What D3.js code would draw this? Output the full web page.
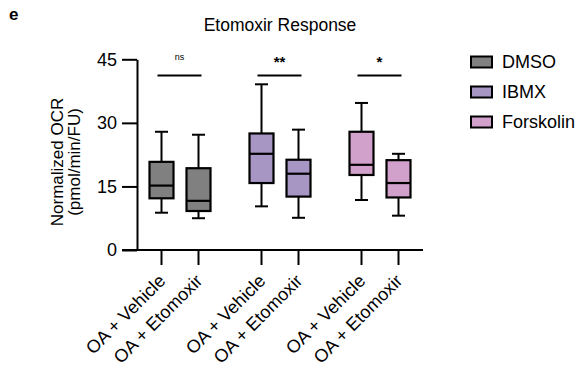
<!DOCTYPE html>
<html>
<head>
<meta charset="utf-8">
<script src="https://cdn.jsdelivr.net/npm/d3@7"></script>
<style>
  body { margin: 0; background: #fff; }
  svg { font-family: Arial, "Liberation Sans", sans-serif; }
</style>
</head>
<body>
<div id="chart"></div>
<script>
// Daten
const groups = ["DMSO", "IBMX", "Forskolin"];
const conditions = ["OA + Vehicle", "OA + Etomoxir"];
const groupColors = ["#808080", "#a795c4", "#d1a0cb"];
// [min, q1, median, q3, max] pro Gruppe und Bedingung
const dmsoStats = [[8.8, 12.2, 15.2, 20.8, 27.9], [7.5, 9.2, 11.6, 19.3, 27.2]];
const ibmxStats = [[10.3, 15.8, 22.7, 27.5, 39.1], [7.6, 12.6, 18.0, 21.3, 28.4]];
const forskolinStats = [[11.8, 17.7, 20.1, 27.9, 34.7], [8.1, 12.4, 15.8, 21.2, 22.7]];
const sigLabels = ["ns", "**", "*"];
const sigLevel = 41.2;
const yTicks = [0, 15, 30, 45];

const width = 582, height = 370;
const statsByGroup = [dmsoStats, ibmxStats, forskolinStats];

const svg = d3.select("#chart").append("svg")
    .attr("width", width)
    .attr("height", height);

const y = d3.scaleLinear().domain([0, 45]).range([250, 59.3]);
const x0 = d3.scaleBand().domain(groups).range([130, 430]);
const x1 = d3.scaleBand().domain(conditions).range([13, 87]);
const color = d3.scaleOrdinal().domain(groups).range(groupColors);

const boxes = [];
groups.forEach((g, gi) => {
    conditions.forEach((c, ci) => {
        const s = statsByGroup[gi][ci];
        boxes.push({ group: g, cond: c, min: s[0], q1: s[1], med: s[2], q3: s[3], max: s[4],
            cx: x0(g) + x1(c) + x1.bandwidth() / 2 });
    });
});

// Panel-Buchstabe und Titel
svg.append("text").attr("x", 9).attr("y", 20)
    .style("font-size", "17px").style("font-weight", "bold").text("e");
svg.append("text").attr("x", 280).attr("y", 31)
    .attr("text-anchor", "middle").style("font-size", "17.5px").text("Etomoxir Response");

// y-Achse
const yAxis = svg.append("g")
    .attr("transform", "translate(137,0)")
    .call(d3.axisLeft(y).tickValues(yTicks).tickSize(15).tickSizeOuter(0).tickPadding(5));
yAxis.select(".domain").attr("stroke-width", 2);
yAxis.selectAll(".tick line").attr("stroke-width", 2);
yAxis.selectAll(".tick text").style("font-size", "18px").attr("fill", "#000");

// x-Achse
svg.append("line").attr("x1", 122).attr("x2", 423).attr("y1", y(0)).attr("y2", y(0))
    .attr("stroke", "#000").attr("stroke-width", 2);
const xt = svg.selectAll(".xtick").data(boxes).enter().append("g")
    .attr("class", "xtick")
    .attr("transform", d => `translate(${d.cx},${y(0)})`);
xt.append("line").attr("y2", 15).attr("stroke", "#000").attr("stroke-width", 2);
xt.append("text")
    .attr("transform", "translate(5,32) rotate(-45)")
    .attr("text-anchor", "end")
    .style("font-size", "18px")
    .text(d => d.cond);

// y-Achsentitel
const yl = svg.append("text")
    .attr("transform", `translate(63,${162}) rotate(-90)`)
    .attr("text-anchor", "middle")
    .style("font-size", "17px");
yl.append("tspan").attr("x", 0).attr("y", 0).text("Normalized OCR");
yl.append("tspan").attr("x", 0).attr("y", 17).text("(pmol/min/FU)");

// Boxplots
const boxW = 24, capW = 13;
const bg = svg.selectAll(".box").data(boxes).enter().append("g").attr("class", "box");
bg.append("line")
    .attr("x1", d => d.cx).attr("x2", d => d.cx)
    .attr("y1", d => y(d.max)).attr("y2", d => y(d.min))
    .attr("stroke", "#000").attr("stroke-width", 2);
bg.append("line")
    .attr("x1", d => d.cx - capW / 2).attr("x2", d => d.cx + capW / 2)
    .attr("y1", d => y(d.max)).attr("y2", d => y(d.max))
    .attr("stroke", "#000").attr("stroke-width", 2);
bg.append("line")
    .attr("x1", d => d.cx - capW / 2).attr("x2", d => d.cx + capW / 2)
    .attr("y1", d => y(d.min)).attr("y2", d => y(d.min))
    .attr("stroke", "#000").attr("stroke-width", 2);
bg.append("rect")
    .attr("x", d => d.cx - boxW / 2).attr("width", boxW)
    .attr("y", d => y(d.q3)).attr("height", d => y(d.q1) - y(d.q3))
    .attr("fill", d => color(d.group))
    .attr("stroke", "#000").attr("stroke-width", 2.2);
bg.append("line")
    .attr("x1", d => d.cx - boxW / 2).attr("x2", d => d.cx + boxW / 2)
    .attr("y1", d => y(d.med)).attr("y2", d => y(d.med))
    .attr("stroke", "#000").attr("stroke-width", 2.2);

// Signifikanz
groups.forEach((g, gi) => {
    const a = x0(g) + x1(conditions[0]) + x1.bandwidth() / 2 - 4;
    const b = x0(g) + x1(conditions[1]) + x1.bandwidth() / 2 + 3;
    svg.append("line").attr("x1", a).attr("x2", b)
        .attr("y1", y(sigLevel)).attr("y2", y(sigLevel))
        .attr("stroke", "#000").attr("stroke-width", 2);
    const isNs = sigLabels[gi] === "ns";
    svg.append("text")
        .attr("x", (a + b) / 2).attr("y", isNs ? 60 : 67)
        .attr("text-anchor", "middle")
        .style("font-size", isNs ? "9px" : "15px")
        .style("font-weight", isNs ? "normal" : "bold")
        .text(sigLabels[gi]);
});

// Legende
const legend = svg.append("g");
groups.forEach((g, i) => {
    const cy = 62 + i * 30;
    legend.append("rect").attr("x", 471).attr("y", cy - 5.5)
        .attr("width", 21).attr("height", 11)
        .attr("fill", color(g)).attr("stroke", "#000").attr("stroke-width", 2);
    legend.append("text").attr("x", 502).attr("y", cy)
        .attr("dominant-baseline", "central")
        .style("font-size", "18px").text(g);
});
</script>
</body>
</html>
